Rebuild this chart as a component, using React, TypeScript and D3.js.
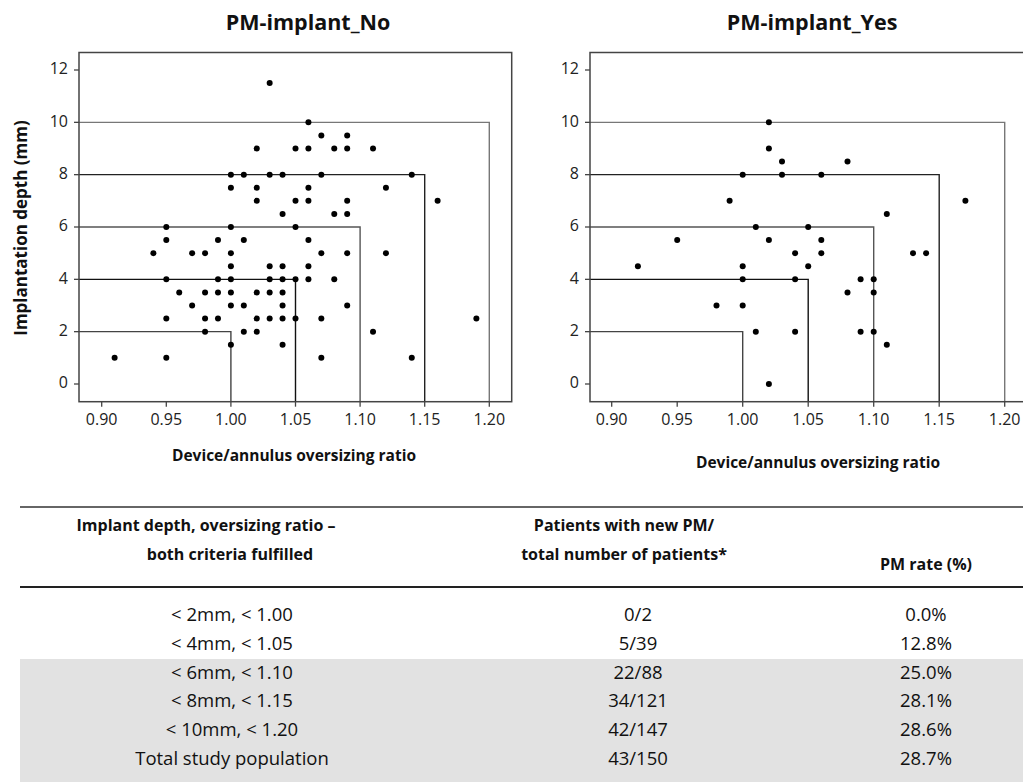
import React from "react";
import { scaleLinear } from "d3";

// ratio, depth (mm) for each patient
const pmNo: [number, number][] = [
  [1.03, 11.5], [1.06, 10], [1.07, 9.5], [1.09, 9.5],
  [1.02, 9], [1.05, 9], [1.06, 9], [1.08, 9], [1.09, 9], [1.11, 9],
  [1.0, 8], [1.01, 8], [1.03, 8], [1.04, 8], [1.07, 8], [1.14, 8],
  [1.0, 7.5], [1.02, 7.5], [1.06, 7.5], [1.12, 7.5],
  [1.02, 7], [1.05, 7], [1.06, 7], [1.09, 7], [1.16, 7],
  [1.04, 6.5], [1.08, 6.5], [1.09, 6.5],
  [0.95, 6], [1.0, 6], [1.05, 6],
  [0.95, 5.5], [0.99, 5.5], [1.01, 5.5], [1.06, 5.5],
  [0.94, 5], [0.97, 5], [0.98, 5], [1.0, 5], [1.07, 5], [1.09, 5], [1.12, 5],
  [1.0, 4.5], [1.03, 4.5], [1.04, 4.5], [1.06, 4.5],
  [0.95, 4], [0.99, 4], [1.0, 4], [1.03, 4], [1.04, 4], [1.05, 4], [1.06, 4], [1.08, 4],
  [0.96, 3.5], [0.98, 3.5], [0.99, 3.5], [1.0, 3.5], [1.02, 3.5], [1.03, 3.5], [1.04, 3.5],
  [0.97, 3], [1.0, 3], [1.01, 3], [1.04, 3], [1.09, 3],
  [0.95, 2.5], [0.98, 2.5], [0.99, 2.5], [1.02, 2.5], [1.03, 2.5], [1.04, 2.5], [1.05, 2.5], [1.07, 2.5], [1.19, 2.5],
  [0.98, 2], [1.01, 2], [1.02, 2], [1.11, 2],
  [1.0, 1.5], [1.04, 1.5],
  [0.91, 1], [0.95, 1], [1.07, 1], [1.14, 1],
];

const pmYes: [number, number][] = [
  [1.02, 10], [1.02, 9], [1.03, 8.5], [1.08, 8.5],
  [1.0, 8], [1.03, 8], [1.06, 8],
  [0.99, 7], [1.17, 7], [1.11, 6.5],
  [1.01, 6], [1.05, 6],
  [0.95, 5.5], [1.02, 5.5], [1.06, 5.5],
  [1.04, 5], [1.06, 5], [1.13, 5], [1.14, 5],
  [0.92, 4.5], [1.0, 4.5], [1.05, 4.5],
  [1.0, 4], [1.04, 4], [1.09, 4], [1.1, 4],
  [1.08, 3.5], [1.1, 3.5],
  [0.98, 3], [1.0, 3],
  [1.01, 2], [1.04, 2], [1.09, 2], [1.1, 2],
  [1.11, 1.5], [1.02, 0],
];

const cutRatios = [1.0, 1.05, 1.1, 1.15, 1.2];
const cutDepths = [2, 4, 6, 8, 10];
const cutColors = ["#444", "#111", "#555", "#222", "#777"];

const xTicks = [0.9, 0.95, 1.0, 1.05, 1.1, 1.15, 1.2];
const yTicks = [0, 2, 4, 6, 8, 10, 12];

const criteria = ["< 2mm, < 1.00", "< 4mm, < 1.05", "< 6mm, < 1.10", "< 8mm, < 1.15", "< 10mm, < 1.20", "Total study population"];
const counts = ["0/2", "5/39", "22/88", "34/121", "42/147", "43/150"];
const rates = ["0.0%", "12.8%", "25.0%", "28.1%", "28.6%", "28.7%"];

const font = "'Open Sans', sans-serif";

type PanelProps = {
  data: [number, number][];
  title: string;
  left: number;
  right: number;
  xRange: [number, number];
  titleX: number;
  labelX: number;
  labelY: number;
};

const top = 52.5;
const bottom = 401.7;

const Panel = ({ data, title, left, right, xRange, titleX, labelX, labelY }: PanelProps) => {
  const x = scaleLinear().domain([0.9, 1.2]).range(xRange);
  const y = scaleLinear().domain([0, 12]).range([384, 70]);

  return (
    <g>
      <text x={titleX} y={24} textAnchor="middle" dominantBaseline="middle"
        fontFamily={font} fontWeight="bold" fontSize={21.5} fill="#111">{title}</text>

      {/* threshold boxes */}
      {cutRatios.map((r, i) => (
        <path key={i}
          d={`M${left},${y(cutDepths[i])}H${x(r)}V${bottom}`}
          fill="none" stroke={cutColors[i]} strokeWidth={1.4} />
      ))}

      <rect x={left} y={top} width={right - left} height={bottom - top}
        fill="none" stroke="#444" strokeWidth={1.5} />

      {yTicks.map(t => (
        <g key={t}>
          <line x1={left - 5} x2={left} y1={y(t)} y2={y(t)} stroke="#444" strokeWidth={1.3} />
          <text x={left - 11} y={y(t)} textAnchor="end" dominantBaseline="middle"
            fontFamily={font} fontSize={16} fill="#222">{t}</text>
        </g>
      ))}
      {xTicks.map(t => (
        <g key={t}>
          <line x1={x(t)} x2={x(t)} y1={bottom} y2={bottom + 5} stroke="#444" strokeWidth={1.3} />
          <text x={x(t)} y={bottom + 19} textAnchor="middle" dominantBaseline="middle"
            fontFamily={font} fontSize={16} fill="#222">{t.toFixed(2)}</text>
        </g>
      ))}

      {data.map((d, i) => (
        <circle key={i} cx={x(d[0])} cy={y(d[1])} r={3} fill="#000" />
      ))}

      <text x={labelX} y={labelY} textAnchor="middle" dominantBaseline="middle"
        fontFamily={font} fontWeight="bold" fontSize={15.5} fill="#111">Device/annulus oversizing ratio</text>
    </g>
  );
};

const rowY = [616, 645, 674, 702, 731, 760];

const App = () => {
  return (
    <svg width={1023} height={782} style={{ position: "absolute", left: 0, top: 0, background: "#fff" }}>
      <Panel data={pmNo} title="PM-implant_No" left={79} right={511.7} xRange={[101.7, 489.3]}
        titleX={308} labelX={294} labelY={457} />
      <Panel data={pmYes} title="PM-implant_Yes" left={590} right={1027} xRange={[611.7, 1004.7]}
        titleX={812} labelX={818} labelY={464} />

      <text transform="translate(22,228) rotate(-90)" textAnchor="middle" dominantBaseline="middle"
        fontFamily={font} fontWeight="bold" fontSize={17} fill="#111">Implantation depth (mm)</text>

      {/* table */}
      <rect x={20} y={659} width={1003} height={123} fill="#e2e2e2" />
      <line x1={20} x2={1023} y1={507} y2={507} stroke="#666" strokeWidth={2} />
      <line x1={20} x2={1023} y1={587} y2={587} stroke="#222" strokeWidth={2} />

      <g fontFamily={font} fontWeight="bold" fontSize={16} fill="#111" textAnchor="middle">
        <text x={206} y={527} dominantBaseline="middle">Implant depth, oversizing ratio –</text>
        <text x={230} y={556} dominantBaseline="middle">both criteria fulfilled</text>
        <text x={624} y={527} dominantBaseline="middle">Patients with new PM/</text>
        <text x={624} y={556} dominantBaseline="middle">total number of patients*</text>
        <text x={926} y={566} dominantBaseline="middle">PM rate (%)</text>
      </g>

      <g fontFamily={font} fontSize={18.5} fill="#111" textAnchor="middle">
        {criteria.map((c, i) => (
          <g key={i}>
            <text x={232} y={rowY[i]} dominantBaseline="middle">{c}</text>
            <text x={638} y={rowY[i]} dominantBaseline="middle">{counts[i]}</text>
            <text x={926} y={rowY[i]} dominantBaseline="middle">{rates[i]}</text>
          </g>
        ))}
      </g>
    </svg>
  );
};

export default App;
